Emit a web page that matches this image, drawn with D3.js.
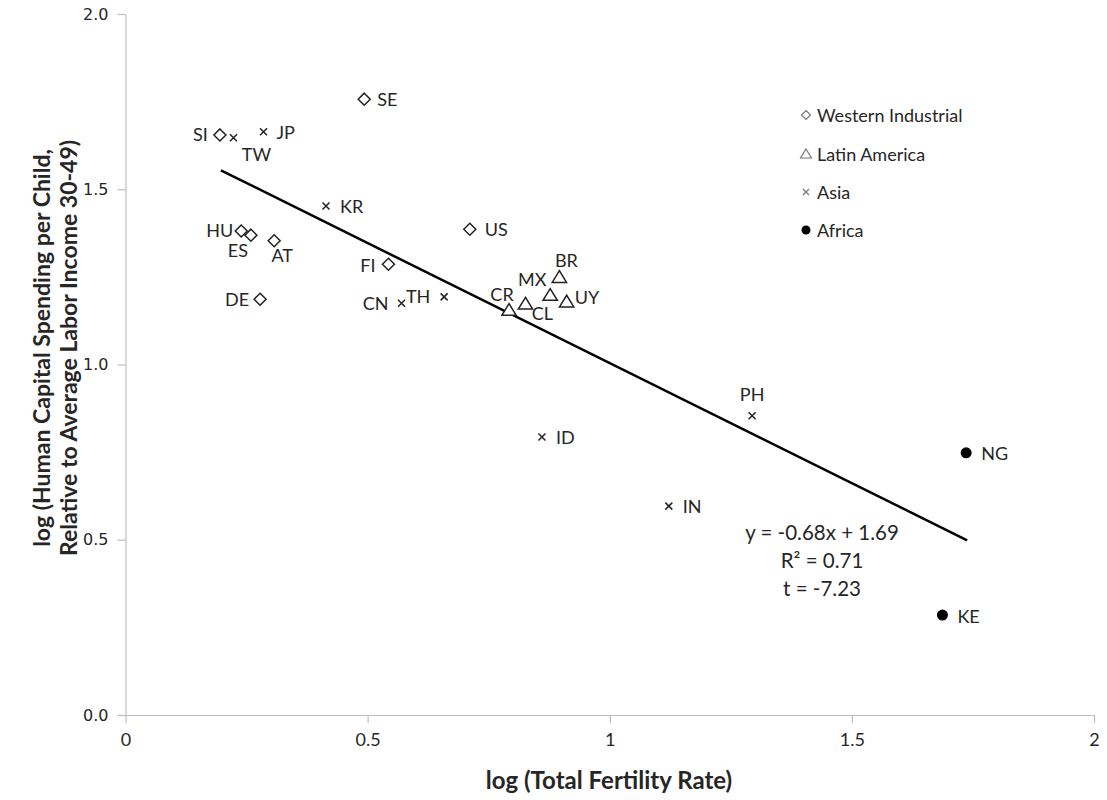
<!DOCTYPE html>
<html><head><meta charset="utf-8">
<script src="https://cdn.jsdelivr.net/npm/d3@7"></script>
<style>body{margin:0;background:#fff}</style>
</head><body>
<svg id="c" width="1107" height="800"></svg>
<script>
// ---- data ----
const westernNames = ["SI","SE","HU","ES","AT","DE","FI","US"];
const westernX     = [0.195,0.493,0.239,0.259,0.307,0.278,0.543,0.711];
const westernY     = [1.655,1.757,1.381,1.369,1.353,1.186,1.286,1.386];

const latinNames = ["CR","CL","MX","BR","UY"];
const latinX     = [0.792,0.826,0.877,0.896,0.911];
const latinY     = [1.155,1.173,1.198,1.249,1.179];

const asiaNames = ["TW","JP","KR","CN","TH","PH","IN","ID"];
const asiaX     = [0.223,0.285,0.414,0.570,0.658,1.294,1.122,0.860];
const asiaY     = [1.647,1.664,1.452,1.175,1.193,0.854,0.596,0.793];

const africaNames = ["NG","KE"];
const africaX     = [1.736,1.687];
const africaY     = [0.748,0.285];

const trendSlope = -0.685, trendIntercept = 1.689;
const trendRange = [0.197, 1.738];
const equationLines = ["y = -0.68x + 1.69", "R² = 0.71", "t = -7.23"];

const xTicks = [0,0.5,1,1.5,2];
const yTicks = [0,0.5,1,1.5,2];
const legendLabels = ["Western Industrial","Latin America","Asia","Africa"];

// label placements (dx, dy, anchor) relative to the marker
const labelPos = {
  SI:[-12,6,"end"], SE:[13,7,"start"], HU:[-8,6,"end"], ES:[-13,22,"middle"],
  AT:[8,21,"middle"], DE:[-11,7,"end"], FI:[-13,8,"end"], US:[15,7,"start"],
  CR:[-7,-9,"middle"], CL:[17,16,"middle"], MX:[-18,-9,"middle"], BR:[7,-10,"middle"], UY:[8,2,"start"],
  TW:[23,23,"middle"], JP:[13,7,"start"], KR:[14,7,"start"], CN:[-26,7,"middle"], TH:[-26,6,"middle"],
  PH:[0,-15,"middle"], IN:[14,7,"start"], ID:[14,7,"start"], NG:[15,7,"start"], KE:[15,8,"start"]
};

// ---- drawing ----
const svg = d3.select("#c");
const x = d3.scaleLinear().domain([0,2]).range([125.5,1094]);
const y = d3.scaleLinear().domain([0,2]).range([715,14]);
const font = "Lato, 'Open Sans', sans-serif";

const gx = svg.append("g").attr("transform","translate(0,715)")
  .call(d3.axisBottom(x).tickValues(xTicks).tickSize(8).tickSizeOuter(0).tickPadding(10)
    .tickFormat(d => d===0?"0":d3.format("~g")(d)));
const gy = svg.append("g").attr("transform","translate(125.5,0)")
  .call(d3.axisLeft(y).tickValues(yTicks).tickSize(8).tickSizeOuter(0).tickPadding(9)
    .tickFormat(d3.format(".1f")));
[gx,gy].forEach(g=>{
  g.selectAll("path,line").attr("stroke","#bfbfbf").attr("stroke-width",1.2);
  g.selectAll("text").attr("fill","#262626").style("font-family",font).style("font-size","18px");
});
gy.selectAll("text").style("font-family","'DejaVu Sans', sans-serif").style("font-size","16px");

// trend line
svg.append("line")
  .attr("x1",x(trendRange[0])).attr("y1",y(trendSlope*trendRange[0]+trendIntercept))
  .attr("x2",x(trendRange[1])).attr("y2",y(trendSlope*trendRange[1]+trendIntercept))
  .attr("stroke","#000").attr("stroke-width",2.5);

const mk = (names,xs,ys) => names.map((n,i)=>({name:n,x:xs[i],y:ys[i]}));
const west = mk(westernNames,westernX,westernY);
const latin = mk(latinNames,latinX,latinY);
const asia = mk(asiaNames,asiaX,asiaY);
const africa = mk(africaNames,africaX,africaY);

const diamond = (s)=>`M0,${-s}L${s},0L0,${s}L${-s},0Z`;
const tri = (s)=>`M0,${-s}L${s*1.1},${s*0.8}L${-s*1.1},${s*0.8}Z`;
const cross = (s)=>`M${-s},${-s}L${s},${s}M${-s},${s}L${s},${-s}`;

const pts = svg.append("g");
pts.selectAll(".w").data(west).join("path").attr("transform",d=>`translate(${x(d.x)},${y(d.y)})`)
  .attr("d",diamond(6)).attr("fill","#fff").attr("stroke","#222").attr("stroke-width",1.5);
pts.selectAll(".l").data(latin).join("path").attr("transform",d=>`translate(${x(d.x)},${y(d.y)})`)
  .attr("d",tri(6.5)).attr("fill","#fff").attr("stroke","#222").attr("stroke-width",1.5);
pts.selectAll(".a").data(asia).join("path").attr("transform",d=>`translate(${x(d.x)},${y(d.y)})`)
  .attr("d",cross(3.5)).attr("fill","none").attr("stroke","#222").attr("stroke-width",1.5);
pts.selectAll(".f").data(africa).join("circle").attr("cx",d=>x(d.x)).attr("cy",d=>y(d.y))
  .attr("r",5.5).attr("fill","#000");

const all = [...west,...latin,...asia,...africa];
svg.append("g").selectAll("text").data(all).join("text")
  .attr("x",d=>x(d.x)+labelPos[d.name][0]).attr("y",d=>y(d.y)+labelPos[d.name][1])
  .attr("text-anchor",d=>labelPos[d.name][2])
  .style("font-family",font).style("font-size","18px").attr("fill","#262626")
  .text(d=>d.name);

// equation
svg.append("g").selectAll("text").data(equationLines).join("text")
  .attr("x",822).attr("y",(d,i)=>540+i*28).attr("text-anchor","middle")
  .style("font-family",font).style("font-size","20.5px").attr("fill","#262626").text(d=>d);

// legend
const lg = svg.append("g").attr("transform","translate(806,0)");
const ly = [115,154,192,230];
lg.append("path").attr("transform",`translate(0,${ly[0]})`).attr("d",diamond(4.5)).attr("fill","#fff").attr("stroke","#777").attr("stroke-width",1.2);
lg.append("path").attr("transform",`translate(0,${ly[1]})`).attr("d",tri(5)).attr("fill","#fff").attr("stroke","#777").attr("stroke-width",1.2);
lg.append("path").attr("transform",`translate(0,${ly[2]})`).attr("d",cross(3)).attr("fill","none").attr("stroke","#777").attr("stroke-width",1.2);
lg.append("circle").attr("cx",0).attr("cy",ly[3]).attr("r",4.5).attr("fill","#000");
lg.selectAll("text").data(legendLabels).join("text").attr("x",11).attr("y",(d,i)=>ly[i]+7)
  .style("font-family",font).style("font-size","18px").attr("fill","#262626").text(d=>d);

// axis titles
svg.append("text").attr("x",609).attr("y",789).attr("text-anchor","middle")
  .style("font-family",font).style("font-size","24px").style("font-weight","bold").attr("fill","#262626")
  .text("log (Total Fertility Rate)");
const yt = svg.append("text").attr("transform","translate(0,348) rotate(-90)").attr("text-anchor","middle")
  .style("font-family",font).style("font-size","23px").style("font-weight","bold").attr("fill","#262626");
yt.append("tspan").attr("x",0).attr("y",50).text("log (Human Capital Spending per Child,");
yt.append("tspan").attr("x",0).attr("y",77).text("Relative to Average Labor Income 30-49)");
</script>
</body></html>
